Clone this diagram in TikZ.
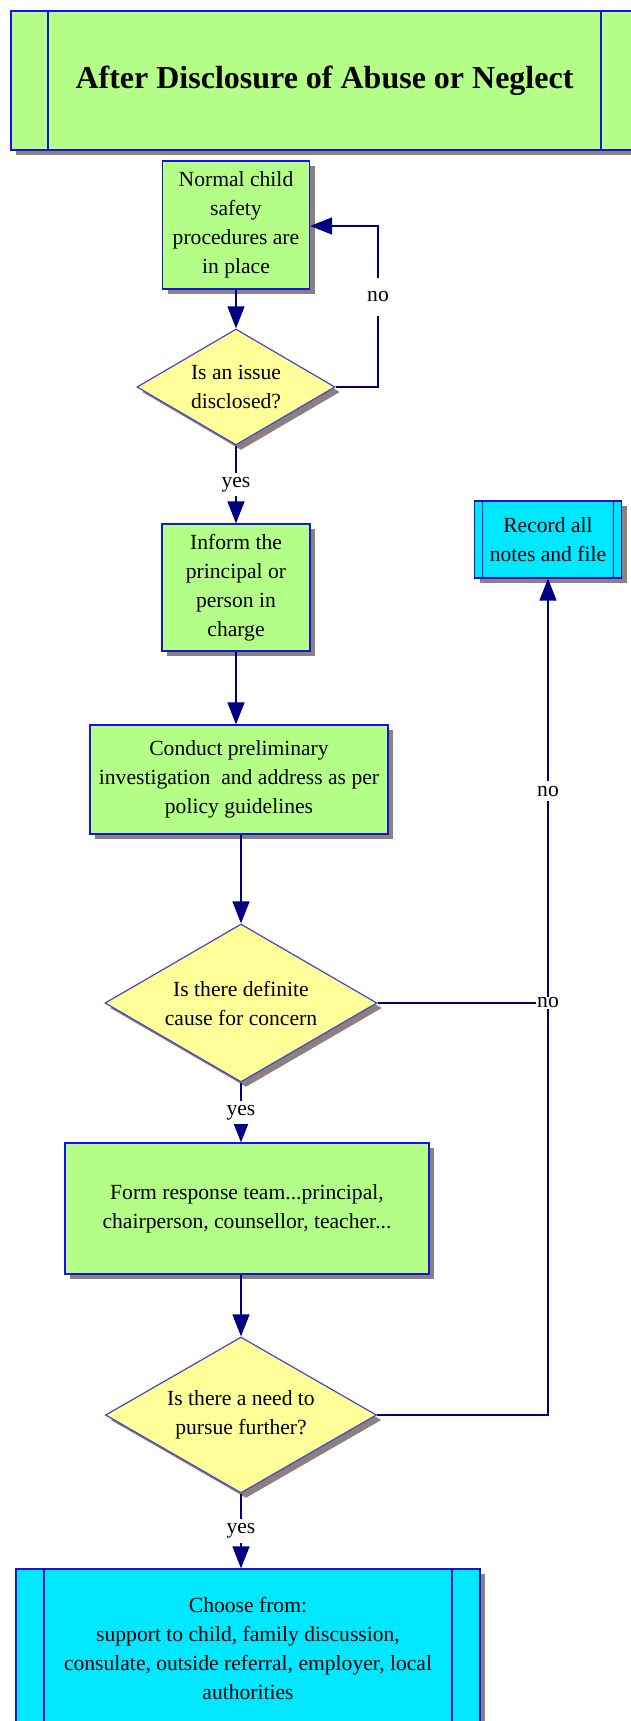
\documentclass[tikz,border=0pt]{standalone}
\usepackage{fontspec}
\setmainfont{Liberation Serif}
\usepackage{tikz}
\usetikzlibrary{positioning,arrows.meta,shapes.geometric,shadows}

\definecolor{boxgreen}{RGB}{180,255,136}
\definecolor{boxcyan}{RGB}{0,232,255}
\definecolor{qyellow}{RGB}{255,255,153}
\definecolor{edgeblue}{RGB}{20,20,220}
\definecolor{qblue}{RGB}{70,70,200}
\definecolor{flownavy}{RGB}{0,0,128}
\definecolor{shadegrey}{RGB}{140,128,128}

\tikzset{
  txt/.style={font=\fontsize{21.6}{29}\selectfont, align=center},
  drop/.style={drop shadow={shadow xshift=5pt, shadow yshift=-5pt, fill=shadegrey, opacity=1}},
  stepbox/.style={txt, draw=edgeblue, line width=1.2pt, fill=boxgreen, drop, inner sep=0pt},
  query/.style={txt, diamond, shape aspect=1.72, draw=qblue, line width=1.2pt, fill=qyellow, drop, inner sep=0pt},
  sidebars/.style={path picture={
      \draw[edgeblue, line width=1.2pt]
        ([xshift=#1]path picture bounding box.north west) -- ([xshift=#1]path picture bounding box.south west)
        ([xshift=-#1]path picture bounding box.north east) -- ([xshift=-#1]path picture bounding box.south east);}},
  flow/.style={draw=flownavy, line width=1.3pt, -{Triangle[length=22pt,width=17pt]}},
  link/.style={draw=flownavy, line width=1.3pt},
  lbl/.style={txt, fill=white, inner xsep=1pt, inner ysep=4.5pt},
}

\begin{document}
\begin{tikzpicture}[x=1pt,y=-1pt]
\useasboundingbox (0,0) rectangle (630,1721);
% heading bar runs off the right edge
\node[stepbox, sidebars=37pt, minimum width=627pt, minimum height=139pt,
  font=\fontsize{32}{38}\selectfont\bfseries] (title) at (324.5,80.5)
  {After Disclosure of Abuse or Neglect};

\node[stepbox, minimum width=147pt, minimum height=128pt] (normal) at (236,225)
  {Normal child\\safety\\procedures are\\in place};
\node[query, minimum width=198pt, minimum height=116pt] (issue) at (236,387)
  {Is an issue\\disclosed?};
\node[stepbox, minimum width=148pt, minimum height=127pt] (inform) at (236,587.5)
  {Inform the\\principal or\\person in\\charge};
\node[stepbox, minimum width=298pt, minimum height=109pt] (probe) at (239,779.5)
  {Conduct preliminary\\investigation\ \ and address as per\\policy guidelines};
\node[query, minimum width=272pt, minimum height=158pt] (concern) at (241,1003)
  {Is there definite\\cause for concern};
\node[stepbox, minimum width=364pt, minimum height=131pt] (team) at (247,1208.5)
  {Form response team...principal,\\chairperson, counsellor, teacher...};
\node[query, minimum width=271pt, minimum height=156pt] (pursue) at (241,1415)
  {Is there a need to\\pursue further?};
\node[stepbox, fill=boxcyan, sidebars=8pt, minimum width=147pt, minimum height=77pt] (record) at (548,539.5)
  {Record all\\notes and file};
\node[stepbox, fill=boxcyan, sidebars=28pt, minimum width=464pt, minimum height=158pt] (choose) at (248,1648)
  {Choose from:\\support to child, family discussion,\\consulate, outside referral, employer, local\\authorities};

\coordinate (loop) at (378,226);

\draw[flow] (normal) -- (issue);
\draw[flow] (issue.east) -| (loop) node[lbl, inner ysep=14pt, pos=0.78] {no} -- (normal.east |- loop);
\draw[flow] (issue.south) -- node[lbl] {yes} (inform.north);
\draw[flow] (inform.south) -- (inform.south |- probe.north);
\draw[flow] (concern.north |- probe.south) -- (concern.north);
\draw[flow] (concern.south) -- node[lbl] {yes} (concern.south |- team.north);
\draw[flow] (pursue.north |- team.south) -- (pursue.north);
\draw[flow] (pursue.east) -| (record.south) node[lbl, pos=0.873] {no};
\draw[link] (concern.east) -- (concern.east -| record.south)
  node[txt, fill=white, inner sep=1pt] {no};
\draw[flow] (pursue.south) -- node[lbl] {yes} (pursue.south |- choose.north);
\end{tikzpicture}
\end{document}
